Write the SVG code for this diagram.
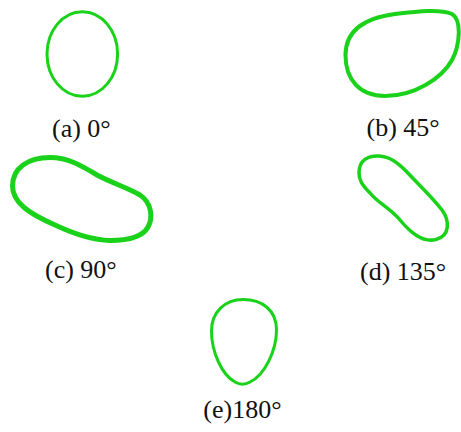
<svg xmlns="http://www.w3.org/2000/svg" width="461" height="432" viewBox="0 0 461 432">
<style>
.s{fill:none;stroke:#19d219;stroke-linejoin:round}
.t{font-family:"Liberation Serif","Times New Roman",serif;font-size:26px;fill:#111}
</style>
<rect width="461" height="432" fill="#fff"/>
<g id="a">
<ellipse class="s" cx="82.3" cy="54" rx="35.3" ry="42.3" stroke-width="3"/>
<text class="t" x="52" y="136.5">(a) 0°</text>
</g>
<g id="b">
<path class="s" stroke-width="4" d="M 345.5 55 C 345.5 30 365 18 395 14 C 420 11 440 9 452 14 C 462 20 460 45 452 60 C 442 78 415 96 385 96 C 360 96 345.5 80 345.5 55 Z"/>
<text class="t" x="366.5" y="135.7">(b) 45°</text>
</g>
<g id="c">
<path class="s" stroke-width="5" d="M 12.5 186 C 12.5 168 28 157.5 50 157.5 C 68 157.5 82 166 97 175 C 112 183 128 188 140 195 C 152 203 153 218 148 227 C 142 238 125 240.5 110 240.5 C 90 240 72 233 55 225 C 30 214 12.5 203 12.5 186 Z"/>
<text class="t" x="45" y="278.3">(c) 90°</text>
</g>
<g id="d">
<path class="s" stroke-width="3.5" d="M 359 173 C 359 160 368 155.5 379 156 C 390 156.5 398 163 406 171 C 418 184 432 197 442 210 C 450 221 450 236 436 239.5 C 422 243 410 232 400 220 C 390 208 378 203 370 193 C 362 185 359 180 359 173 Z"/>
<text class="t" x="360" y="280">(d) 135°</text>
</g>
<g id="e">
<path class="s" stroke-width="3" d="M 243 299.5 C 262 299.5 276.5 310 276.5 330 C 276.5 350 265 375 250 382 C 245 385 240 385 235 382 C 222 375 211.5 352 211.5 331 C 211.5 312 225 299.5 243 299.5 Z"/>
<text class="t" x="203.3" y="418.3">(e)180°</text>
</g>
<g id="connectors"/>
</svg>
